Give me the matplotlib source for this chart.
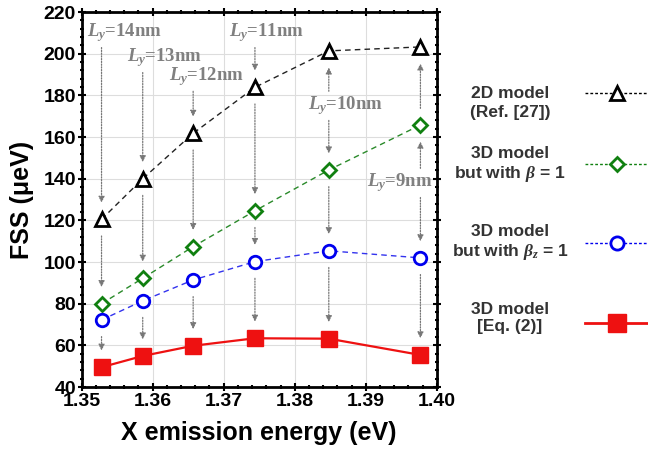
import matplotlib
matplotlib.use("Agg")
import matplotlib.pyplot as plt
from matplotlib.lines import Line2D
from matplotlib.ticker import MultipleLocator

plt.rcParams['font.family'] = ['Liberation Sans', 'DejaVu Sans']
plt.rcParams['mathtext.fontset'] = 'custom'
plt.rcParams['mathtext.it'] = 'Liberation Serif:italic:bold'
plt.rcParams['mathtext.rm'] = 'Liberation Serif:bold'

# ---- data ----
energy = [1.3528, 1.3586, 1.3657, 1.3744, 1.3848, 1.3977]
fss_2d = [120.5, 140.0, 161.8, 183.9, 201.4, 203.3]
fss_beta = [80.0, 92.2, 107.4, 124.6, 144.2, 165.8]
fss_betaz = [72.2, 81.4, 91.4, 100.2, 105.4, 102.0]
fss_3d = [49.5, 54.9, 59.8, 63.4, 63.2, 55.4]
ly_labels = ['14nm', '13nm', '12nm', '11nm', '10nm', '9nm']
xticks = [1.35, 1.36, 1.37, 1.38, 1.39, 1.40]
yticks = [40, 60, 80, 100, 120, 140, 160, 180, 200, 220]

fig = plt.figure(figsize=(6.48, 4.5), dpi=100)
ax = fig.add_axes([0.126, 0.14, 0.548, 0.833])

ax.grid(True, color='#dddddd', lw=0.8, zorder=0)
ax.set_axisbelow(True)

ax.plot(energy, fss_2d, ls=(0, (4, 3)), color='#222222', lw=1.0,
        marker='^', ms=9.5, mfc='white', mec='black', mew=2, zorder=4)
ax.plot(energy, fss_beta, ls=(0, (4, 3)), color='#2a8a2a', lw=1.0,
        marker='D', ms=7.5, mfc='white', mec='#108010', mew=2, zorder=4)
ax.plot(energy, fss_betaz, ls=(0, (4, 3)), color='#3333ee', lw=1.0,
        marker='o', ms=9, mfc='white', mec='#0000ee', mew=2, zorder=4)
ax.plot(energy, fss_3d, ls='-', color='#ee1111', lw=1.6,
        marker='s', ms=11, mfc='#ee1111', mec='#ee1111', zorder=5)

# L_y labels (annotation positions)
label_x = [1.3561, 1.3616, 1.3676, 1.3760, 1.3871, 1.3948]
label_y = [210, 198, 189, 210, 175, 138]
for lx, ly, t in zip(label_x, label_y, ly_labels):
    ax.text(lx, ly, r'$L_y$=' + t, color='#808080', fontsize=13.5,
            ha='center', va='center', fontfamily='Liberation Serif',
            fontweight='bold', zorder=6)

series = {'t': fss_2d, 'd': fss_beta, 'c': fss_betaz, 's': fss_3d}
chains = [
    [('L', 't'), ('t', 'd'), ('c', 's')],
    [('L', 't'), ('t', 'd'), ('c', 's')],
    [('L', 't'), ('t', 'd'), ('d', 'c'), ('c', 's')],
    [('L', 't'), ('t', 'd'), ('d', 'c'), ('c', 's')],
    [('L', 't'), ('L', 'd'), ('d', 'c'), ('c', 's')],
    [('d', 't'), ('L', 'd'), ('L', 'c'), ('c', 's')],
]


def val(i, key):
    return label_y[i] if key == 'L' else series[key][i]


for i, chain in enumerate(chains):
    for a, b in chain:
        ya, yb = val(i, a), val(i, b)
        sgn = 1 if yb > ya else -1
        ga = 7 if a == 'L' else 8
        y0 = ya + sgn * ga
        y1 = yb - sgn * 8
        ax.annotate('', xy=(energy[i], y1), xytext=(energy[i], y0),
                    arrowprops=dict(arrowstyle='-|>', color='#777777',
                                    lw=0.9, ls=(0, (1, 1.2)),
                                    mutation_scale=9, shrinkA=0, shrinkB=0),
                    zorder=3)

ax.set_xlim(1.35, 1.40)
ax.set_ylim(40, 220)
ax.set_xticks(xticks)
ax.set_xticklabels(['%.2f' % v for v in xticks])
ax.set_yticks(yticks)
ax.xaxis.set_minor_locator(MultipleLocator(0.002))
ax.yaxis.set_minor_locator(MultipleLocator(4))
ax.tick_params(which='both', direction='inout', top=True, right=True, width=1.5)
ax.tick_params(which='major', length=6, labelsize=14, pad=1)
ax.tick_params(which='minor', length=3.5)
for lab in ax.get_xticklabels() + ax.get_yticklabels():
    lab.set_fontweight('bold')
for sp in ax.spines.values():
    sp.set_linewidth(2)

ax.set_xlabel('X emission energy (eV)', fontsize=18, fontweight='bold', labelpad=8)
ax.set_ylabel('FSS (\u03bceV)', fontsize=18, fontweight='bold', labelpad=7)

# ---- manual legend ----
leg_texts = ['2D model\n(Ref. [27])', '3D model\nbut with $\\beta$ = 1',
             '3D model\nbut with $\\beta_z$ = 1', '3D model\n[Eq. (2)]']
leg_text_y = [1 - 103 / 450, 1 - 165 / 450, 1 - 243 / 450, 1 - 318 / 450]
leg_mark_y = [1 - 93 / 450, 1 - 164 / 450, 1 - 243 / 450, 1 - 323 / 450]
leg_styles = [
    dict(ls=(0, (2, 1.5)), color='black', lw=1.0, marker='^', ms=9.5, mfc='white', mec='black', mew=2),
    dict(ls=(0, (2, 1.5)), color='#108010', lw=1.0, marker='D', ms=7.5, mfc='white', mec='#108010', mew=2),
    dict(ls=(0, (2, 1.5)), color='#0000ee', lw=1.0, marker='o', ms=9.5, mfc='white', mec='#0000ee', mew=2),
    dict(ls='-', color='#ee1111', lw=2, marker='s', ms=13, mfc='#ee1111', mec='#ee1111'),
]
for t, ty, my, st in zip(leg_texts, leg_text_y, leg_mark_y, leg_styles):
    fig.text(510 / 648, ty, t, ha='center', va='center', fontsize=12.5,
             fontweight='bold', color='#333333', linespacing=1.25)
    st_line = {k: v for k, v in st.items() if not k.startswith('m')}
    fig.add_artist(Line2D([585 / 648, 1.0], [my, my], transform=fig.transFigure, **st_line))
    fig.add_artist(Line2D([617 / 648], [my], transform=fig.transFigure, ls='none',
                          **{k: v for k, v in st.items() if k.startswith('m')}))

fig.savefig('out.png', dpi=100)
